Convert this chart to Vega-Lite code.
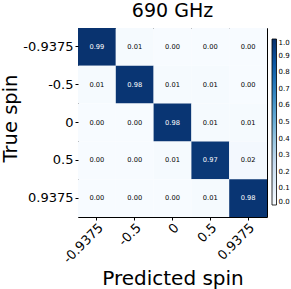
{
  "$schema": "https://vega.github.io/schema/vega-lite/v6.json",
  "width": 189,
  "height": 189,
  "autosize": {"type": "none"},
  "padding": {"left": 78, "top": 28, "right": 24, "bottom": 72},
  "background": "white",
  "config": {
    "font": "DejaVu Sans",
    "view": {"stroke": "black", "strokeWidth": 1},
    "axis": {"domain": false, "tickColor": "black", "labelColor": "black", "titleColor": "black", "titleFontWeight": "normal", "grid": false}
  },
  "title": {"text": "690 GHz", "fontSize": 19, "fontWeight": "normal", "offset": 7, "color": "black"},
  "data": {
    "values": [
      {"true": "-0.9375", "pred": "-0.9375", "v": 0.99},
      {"true": "-0.9375", "pred": "-0.5", "v": 0.01},
      {"true": "-0.9375", "pred": "0", "v": 0.00},
      {"true": "-0.9375", "pred": "0.5", "v": 0.00},
      {"true": "-0.9375", "pred": "0.9375", "v": 0.00},
      {"true": "-0.5", "pred": "-0.9375", "v": 0.01},
      {"true": "-0.5", "pred": "-0.5", "v": 0.98},
      {"true": "-0.5", "pred": "0", "v": 0.01},
      {"true": "-0.5", "pred": "0.5", "v": 0.01},
      {"true": "-0.5", "pred": "0.9375", "v": 0.00},
      {"true": "0", "pred": "-0.9375", "v": 0.00},
      {"true": "0", "pred": "-0.5", "v": 0.00},
      {"true": "0", "pred": "0", "v": 0.98},
      {"true": "0", "pred": "0.5", "v": 0.01},
      {"true": "0", "pred": "0.9375", "v": 0.01},
      {"true": "0.5", "pred": "-0.9375", "v": 0.00},
      {"true": "0.5", "pred": "-0.5", "v": 0.00},
      {"true": "0.5", "pred": "0", "v": 0.01},
      {"true": "0.5", "pred": "0.5", "v": 0.97},
      {"true": "0.5", "pred": "0.9375", "v": 0.02},
      {"true": "0.9375", "pred": "-0.9375", "v": 0.00},
      {"true": "0.9375", "pred": "-0.5", "v": 0.00},
      {"true": "0.9375", "pred": "0", "v": 0.00},
      {"true": "0.9375", "pred": "0.5", "v": 0.01},
      {"true": "0.9375", "pred": "0.9375", "v": 0.98}
    ]
  },
  "encoding": {
    "x": {
      "field": "pred", "type": "ordinal",
      "sort": ["-0.9375", "-0.5", "0", "0.5", "0.9375"],
      "scale": {"paddingInner": 0, "paddingOuter": 0},
      "title": "Predicted spin"
    },
    "y": {
      "field": "true", "type": "ordinal",
      "sort": ["-0.9375", "-0.5", "0", "0.5", "0.9375"],
      "scale": {"paddingInner": 0, "paddingOuter": 0},
      "title": "True spin"
    }
  },
  "layer": [
    {
      "mark": {"type": "rect"},
      "encoding": {
        "x": {"field": "pred", "type": "ordinal", "sort": ["-0.9375", "-0.5", "0", "0.5", "0.9375"],
          "axis": {"orient": "bottom", "labelAngle": -45, "labelAlign": "right", "labelBaseline": "top", "labelFontSize": 13, "tickSize": 3, "labelPadding": 1, "titleFontSize": 20, "titleX": 94.5, "titleY": 67, "titleBaseline": "alphabetic", "titleAlign": "center"}},
        "y": {"field": "true", "type": "ordinal", "sort": ["-0.9375", "-0.5", "0", "0.5", "0.9375"],
          "axis": {"orient": "left", "labelFontSize": 13, "tickSize": 3, "labelPadding": 2, "titleFontSize": 19.5, "titleX": -61.5, "titleY": 90, "titleAngle": -90, "titleBaseline": "alphabetic", "titleAlign": "center"}},
        "color": {
          "field": "v", "type": "quantitative",
          "scale": {"domain": [0, 0.125, 0.25, 0.375, 0.5, 0.625, 0.75, 0.875, 1], "range": ["#f7fbff", "#deebf7", "#c6dbef", "#9ecae1", "#6baed6", "#4292c6", "#2171b5", "#08519c", "#08306b"]},
          "legend": {
            "orient": "none", "legendX": 194, "legendY": 11,
            "title": null, "gradientLength": 166, "gradientThickness": 4.5,
            "gradientStrokeColor": "black", "gradientStrokeWidth": 0.8,
            "values": [0, 0.1, 0.2, 0.3, 0.4, 0.5, 0.6, 0.7, 0.8, 0.9, 1.0],
            "format": ".1f", "labelFontSize": 7, "labelColor": "black", "labelOffset": 2, "labelOverlap": false
          }
        }
      }
    },
    {
      "mark": {"type": "text", "fontSize": 6.7},
      "encoding": {
        "x": {"field": "pred", "type": "ordinal", "sort": ["-0.9375", "-0.5", "0", "0.5", "0.9375"],
          "axis": {"orient": "top", "labels": false, "title": null, "tickSize": -3}},
        "y": {"field": "true", "type": "ordinal", "sort": ["-0.9375", "-0.5", "0", "0.5", "0.9375"],
          "axis": {"orient": "right", "labels": false, "title": null, "tickSize": -3}},
        "text": {"field": "v", "type": "quantitative", "format": ".2f"},
        "color": {"condition": {"test": "datum.v > 0.5", "value": "white"}, "value": "black"}
      }
    }
  ]
}
